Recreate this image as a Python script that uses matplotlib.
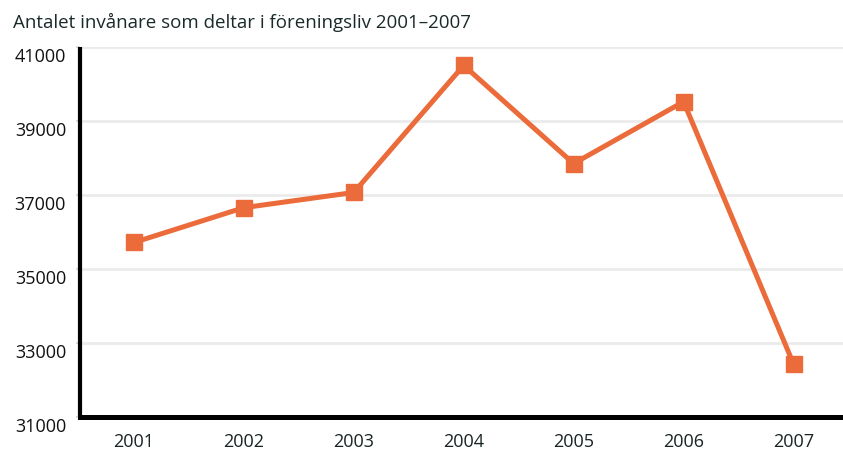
import matplotlib.pyplot as plt
from matplotlib.transforms import ScaledTranslation

# data
years = ['2001', '2002', '2003', '2004', '2005', '2006', '2007']
antal = [35710, 36650, 37060, 40490, 37840, 39510, 32430]
yticks = [31000, 33000, 35000, 37000, 39000, 41000]

plt.rcParams['font.family'] = ['Open Sans', 'DejaVu Sans']

fig = plt.figure(figsize=(8.43, 4.52), dpi=100)
ax = fig.add_axes([80/843, 1-418/452, 1-80/843, (418-47.5)/452])

ax.plot(range(len(years)), antal, color='#EB6B3A', lw=3.6, marker='s',
        markersize=12, zorder=3)

ax.set_xlim(-0.49, 6.45)
ax.set_ylim(31000, 41000)
ax.set_yticks(yticks)
ax.set_yticklabels([str(v) for v in yticks], fontsize=13, color='#111111')
ax.set_xticks(range(len(years)))
ax.set_xticklabels(years, fontsize=13, color='#1a2424')
ax.grid(axis='y', color='#ebebeb', lw=2, zorder=0)
ax.set_axisbelow(True)

for s in ['top', 'right']:
    ax.spines[s].set_visible(False)
ax.spines['left'].set_linewidth(3)
ax.spines['left'].set_capstyle('butt')
ax.spines['bottom'].set_linewidth(3.6)
ax.tick_params(axis='y', length=3, width=1.5, color='#dddddd', pad=7)
ax.tick_params(axis='x', length=0, pad=11)

# labels sit a little below their gridlines in the original
for lab in ax.get_yticklabels():
    lab.set_transform(lab.get_transform() + ScaledTranslation(0, -0.07, fig.dpi_scale_trans))

fig.text(13/843, 1-22/452, 'Antalet invånare som deltar i föreningsliv 2001–2007',
         fontsize=13.5, color='#1a2a2a', va='center', ha='left')

fig.savefig('out.png', dpi=100)
